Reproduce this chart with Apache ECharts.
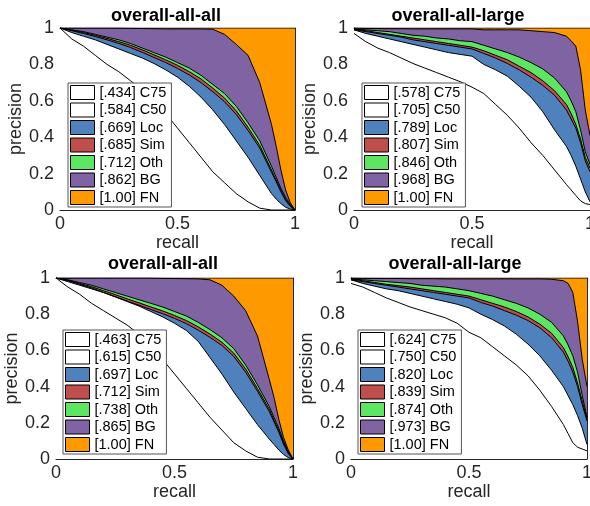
<!DOCTYPE html>
<html>
<head>
<meta charset="utf-8">
<script src="https://cdn.jsdelivr.net/npm/echarts@6/dist/echarts.min.js"></script>
<style>
  html, body { margin: 0; padding: 0; background: #fff; }
  #chart { width: 590px; height: 506px; }
</style>
</head>
<body>
<div id="chart"></div>
<script>
// recall sample points shared by every curve
const recall = [0, 0.05, 0.1, 0.15, 0.2, 0.25, 0.3, 0.35, 0.4, 0.45, 0.5, 0.55, 0.6, 0.65, 0.7, 0.75, 0.8, 0.85, 0.9, 0.92, 0.94, 0.96, 0.98, 1];

const xTickLabels = ['0', '0.5', '1'];
const yTickLabels = ['0', '0.2', '0.4', '0.6', '0.8', '1'];

const titles = ['overall-all-all', 'overall-all-large', 'overall-all-all', 'overall-all-large'];
const typeNames = ['C75', 'C50', 'Loc', 'Sim', 'Oth', 'BG', 'FN'];

// AP values shown in the legends
const apA = ['.434', '.584', '.669', '.685', '.712', '.862', '1.00'];
const apB = ['.578', '.705', '.789', '.807', '.846', '.968', '1.00'];
const apC = ['.463', '.615', '.697', '.712', '.738', '.865', '1.00'];
const apD = ['.624', '.750', '.820', '.839', '.874', '.973', '1.00'];

// plot A: overall-all-all (top left)
const c75A = [1, .94, .90, .85, .80, .76, .71, .66, .60, .53, .45, .37, .29, .21, .15, .09, .045, .01, 0, 0, 0, 0, 0, 0];
const c50A = [1, .975, .955, .935, .91, .885, .86, .835, .805, .77, .73, .68, .62, .55, .47, .38, .29, .19, .09, .06, .035, .015, .005, 0];
const locA = [1, .985, .97, .953, .935, .915, .893, .866, .838, .81, .778, .742, .70, .65, .595, .525, .437, .34, .207, .155, .10, .052, .02, 0];
const simA = [1, .988, .975, .96, .943, .925, .905, .88, .853, .825, .795, .76, .72, .67, .615, .545, .455, .355, .22, .165, .11, .06, .025, 0];
const othA = [1, .99, .98, .965, .95, .935, .915, .89, .865, .84, .81, .78, .74, .69, .64, .57, .48, .38, .24, .18, .12, .07, .03, 0];
const bgA  = [1, 1, 1, 1, 1, 1, .998, .997, .996, .995, .995, .995, .995, .993, .965, .91, .85, .70, .47, .35, .22, .11, .04, 0];

// plot B: overall-all-large (top right)
const c75B = [.97, .925, .89, .865, .835, .805, .78, .755, .73, .705, .675, .64, .58, .52, .45, .37, .30, .22, .14, .11, .08, .05, .035, .03];
const c50B = [.99, .97, .955, .94, .925, .91, .895, .88, .865, .855, .845, .80, .77, .735, .68, .62, .54, .44, .35, .30, .24, .17, .10, .045];
const locB = [.99, .98, .97, .96, .95, .935, .925, .915, .905, .895, .885, .86, .835, .805, .77, .73, .685, .63, .55, .50, .45, .37, .27, .21];
const simB = [.995, .985, .975, .965, .955, .945, .935, .925, .915, .905, .895, .875, .85, .825, .79, .755, .71, .655, .58, .53, .47, .39, .29, .23];
const othB = [.995, .99, .985, .98, .97, .96, .955, .945, .94, .93, .925, .905, .885, .865, .84, .81, .775, .725, .65, .60, .54, .44, .32, .25];
const bgB  = [1, .998, .997, .996, .996, .995, .995, .995, .995, .995, .995, .99, .99, .99, .99, .985, .98, .975, .955, .93, .90, .77, .55, .41];

// plot C: overall-all-all (bottom left)
const c75C = [1, .95, .91, .86, .82, .78, .74, .69, .63, .55, .47, .39, .31, .23, .16, .09, .045, .01, 0, 0, 0, 0, 0, 0];
const c50C = [1, .98, .96, .94, .92, .895, .87, .845, .815, .785, .75, .71, .65, .56, .47, .37, .28, .19, .11, .08, .05, .025, .008, 0];
const locC = [1, .985, .965, .945, .92, .897, .873, .85, .826, .803, .777, .748, .712, .672, .627, .567, .48, .375, .262, .205, .148, .082, .03, 0];
const simC = [1, .988, .97, .952, .93, .908, .885, .863, .84, .818, .793, .765, .73, .69, .645, .585, .498, .39, .275, .215, .158, .09, .035, 0];
const othC = [1, .99, .975, .96, .94, .92, .90, .88, .86, .84, .815, .79, .755, .715, .67, .61, .52, .41, .29, .23, .17, .10, .04, 0];
const bgC  = [1, 1, 1, 1, 1, 1, 1, 1, 1, .998, .997, .996, .995, .99, .96, .90, .82, .68, .44, .34, .22, .12, .05, 0];

// plot D: overall-all-large (bottom right)
const c75D = [.97, .95, .92, .89, .865, .84, .82, .80, .78, .75, .70, .67, .62, .57, .52, .46, .38, .29, .19, .14, .09, .065, .055, .045];
const c50D = [.99, .97, .955, .94, .93, .915, .90, .885, .87, .855, .835, .80, .77, .735, .69, .635, .57, .49, .40, .35, .30, .24, .17, .08];
const locD = [.99, .98, .97, .96, .95, .94, .93, .92, .91, .90, .89, .865, .845, .82, .795, .765, .725, .67, .59, .54, .48, .40, .30, .21];
const simD = [.995, .985, .975, .965, .958, .95, .94, .93, .92, .91, .90, .88, .86, .84, .815, .785, .745, .695, .615, .565, .505, .42, .32, .22];
const othD = [.995, .99, .985, .98, .975, .97, .96, .955, .95, .94, .93, .915, .90, .88, .86, .835, .80, .755, .68, .63, .57, .48, .35, .23];
const bgD  = [1, .998, .998, .997, .997, .996, .996, .996, .995, .995, .995, .995, .995, .995, .995, .995, .995, .993, .985, .97, .92, .76, .55, .40];

// FN covers everything up to precision 1
const fnRecall = [0, 1];
const fnPrec = [1, 1];

const fills = ['#ffffff', '#ffffff', '#4f82bd', '#bf4f4d', '#5ce661', '#8063a3', '#ff9900'];
const font = '"Liberation Sans", Arial, Helvetica, sans-serif';
const ink = '#262626';

const plots = [
  { ap: apA, curves: [c75A, c50A, locA, simA, othA, bgA], grid: { left: 60, top: 28, width: 235, height: 182 }, legend: [68, 83], title: [166, 7], nameGapY: 34 },
  { ap: apB, curves: [c75B, c50B, locB, simB, othB, bgB], grid: { left: 354, top: 28, width: 236, height: 182 }, legend: [362, 83], title: [458, 7], nameGapY: 34 },
  { ap: apC, curves: [c75C, c50C, locC, simC, othC, bgC], grid: { left: 56, top: 278, width: 237, height: 181 }, legend: [63, 330], title: [163, 255], nameGapY: 28 },
  { ap: apD, curves: [c75D, c50D, locD, simD, othD, bgD], grid: { left: 351, top: 278, width: 236, height: 181 }, legend: [358, 330], title: [455, 255], nameGapY: 28 }
];

const chart = echarts.init(document.getElementById('chart'));

const grid = [], xAxis = [], yAxis = [], series = [], legend = [], title = [];

const tick = { show: true, inside: true, length: 3, lineStyle: { color: ink, width: 1 } };
const line = { show: true, onZero: false, lineStyle: { color: ink, width: 1 } };

plots.forEach((p, g) => {
  grid.push(Object.assign({ outerBoundsMode: 'none' }, p.grid));

  title.push({
    text: titles[g], left: p.title[0], top: p.title[1], textAlign: 'center', padding: 0,
    textStyle: { fontFamily: font, fontSize: 18, fontWeight: 'bold', color: '#000' }
  });

  xAxis.push({
    type: 'value', gridIndex: g, min: 0, max: 1, interval: 0.5, position: 'bottom',
    name: 'recall', nameLocation: 'middle', nameGap: 21,
    nameTextStyle: { fontFamily: font, fontSize: 18, color: ink },
    axisLine: line, axisTick: tick, splitLine: { show: false },
    axisLabel: { margin: 5, fontFamily: font, fontSize: 18, color: ink,
      formatter: v => xTickLabels[Math.round(v / 0.5)] }
  });
  xAxis.push({
    type: 'value', gridIndex: g, min: 0, max: 1, interval: 0.5, position: 'top',
    axisLine: line, axisTick: tick, axisLabel: { show: false }, splitLine: { show: false }
  });
  yAxis.push({
    type: 'value', gridIndex: g, min: 0, max: 1, interval: 0.2, position: 'left',
    name: 'precision', nameLocation: 'middle', nameGap: p.nameGapY,
    nameTextStyle: { fontFamily: font, fontSize: 18, color: ink },
    axisLine: line, axisTick: tick, splitLine: { show: false },
    axisLabel: { margin: 6, fontFamily: font, fontSize: 18, color: ink,
      formatter: v => yTickLabels[Math.round(v / 0.2)] }
  });
  yAxis.push({
    type: 'value', gridIndex: g, min: 0, max: 1, interval: 0.2, position: 'right',
    axisLine: line, axisTick: tick, axisLabel: { show: false }, splitLine: { show: false }
  });

  const names = typeNames.map((t, k) => '[' + p.ap[k] + '] ' + t);

  // draw from FN down to C75 so lower curves cover the upper areas
  for (let k = 6; k >= 0; k--) {
    const data = k === 6
      ? fnRecall.map((r, i) => [r, fnPrec[i]])
      : recall.map((r, i) => [r, p.curves[k][i]]);
    series.push({
      type: 'line', name: names[k], xAxisIndex: g * 2, yAxisIndex: g * 2,
      data: data, showSymbol: false, symbol: 'none', smooth: false,
      lineStyle: { color: '#000', width: 1 },
      itemStyle: { color: fills[k] },
      areaStyle: { color: fills[k], opacity: 1, origin: 'start' },
      emphasis: { disabled: true }, silent: true
    });
  }

  legend.push({
    orient: 'vertical', left: p.legend[0], top: p.legend[1],
    itemWidth: 24, itemHeight: 14, itemGap: 2.5,
    padding: [2, 5, 2, 2],
    backgroundColor: '#fff', borderColor: '#555', borderWidth: 1,
    selectedMode: false, icon: 'rect',
    textStyle: { fontFamily: font, fontSize: 14.5, color: '#000' },
    data: names.map((n, k) => ({
      name: n, icon: 'rect',
      itemStyle: { color: fills[k], borderColor: '#000', borderWidth: 1 }
    }))
  });
});

chart.setOption({
  animation: false,
  backgroundColor: '#fff',
  title, grid, xAxis, yAxis, series, legend
});
</script>
</body>
</html>
